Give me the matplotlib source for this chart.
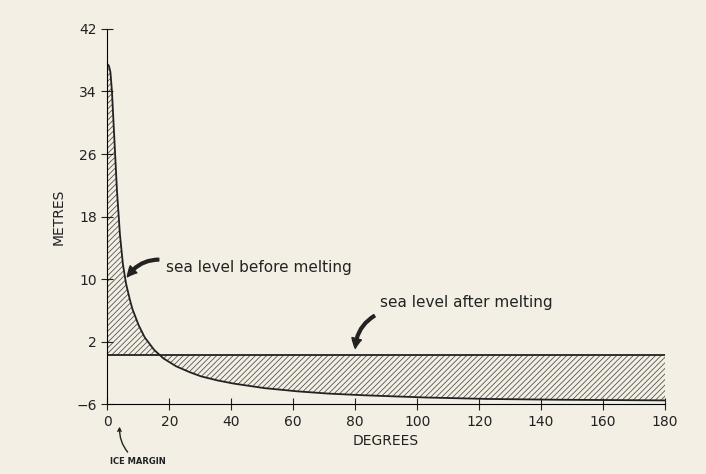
import matplotlib.pyplot as plt
import numpy as np

# curve of the sea surface
degrees = [0, 0.5, 1, 1.5, 2, 3, 4, 5, 6, 7, 8, 10, 12, 15, 18, 22, 26, 30, 35, 40, 50, 60, 70, 80, 100, 120, 140, 160, 180]
metres = [37.5, 37.3, 36.5, 34, 30, 22, 16, 12, 9.5, 7.8, 6.3, 4.2, 2.6, 1.0, -0.1, -1.1, -1.8, -2.4, -2.9, -3.3, -3.9, -4.3, -4.6, -4.8, -5.1, -5.3, -5.4, -5.45, -5.5]
after_level = 0.3
xticks = list(range(0, 181, 20))
yticks = [-6, 2, 10, 18, 26, 34, 42]

bg = '#f4efe4'
fig = plt.figure(figsize=(7.06, 4.74), dpi=100, facecolor=bg)
ax = fig.add_axes([0.152, 0.147, 0.79, 0.792], facecolor=bg)

x = np.array(degrees)
y = np.array(metres)
xf = np.linspace(0, 180, 3000)
yf = np.interp(xf, x, y)
plt.rcParams['hatch.color'] = '#555555'
plt.rcParams['hatch.linewidth'] = 0.6
ax.fill_between(xf, yf, after_level, facecolor='none', hatch='//////', edgecolor='#555555', linewidth=0)
ax.plot(xf, yf, color='#222222', lw=1.3)
ax.hlines(after_level, 0, 180, color='#222222', lw=1.3)

ax.set_xlim(0, 180)
ax.set_ylim(-6, 42)
ax.set_xticks(xticks)
ax.set_yticks(yticks)
for s in ['top', 'right']:
    ax.spines[s].set_visible(False)
ax.tick_params(direction='inout', length=8, labelsize=10, color='#222222', labelcolor='#222222')
ax.set_xlabel('DEGREES', fontsize=10, labelpad=4, color='#222222')
ax.set_ylabel('METRES', fontsize=10, labelpad=8, color='#222222')

arrow = dict(arrowstyle='simple,head_width=0.7,head_length=0.7', color='#222222', connectionstyle='arc3,rad=0.3')
ax.text(19, 11.5, 'sea level before melting', fontsize=11, color='#222222', va='center')
ax.annotate('', xy=(6, 10), xytext=(17.5, 12.5), arrowprops=arrow)
ax.text(88, 7, 'sea level after melting', fontsize=11, color='#222222', va='center')
ax.annotate('', xy=(80, 0.8), xytext=(87, 5.5), arrowprops=arrow)
ax.annotate('ICE MARGIN', xy=(4, -8.5), xytext=(10, -13.3), fontsize=6, fontweight='bold', color='#222222',
            ha='center', va='center', annotation_clip=False,
            arrowprops=dict(arrowstyle='->', color='#222222', connectionstyle='arc3,rad=-0.3'))

fig.savefig('out.png', dpi=100, facecolor=bg)
